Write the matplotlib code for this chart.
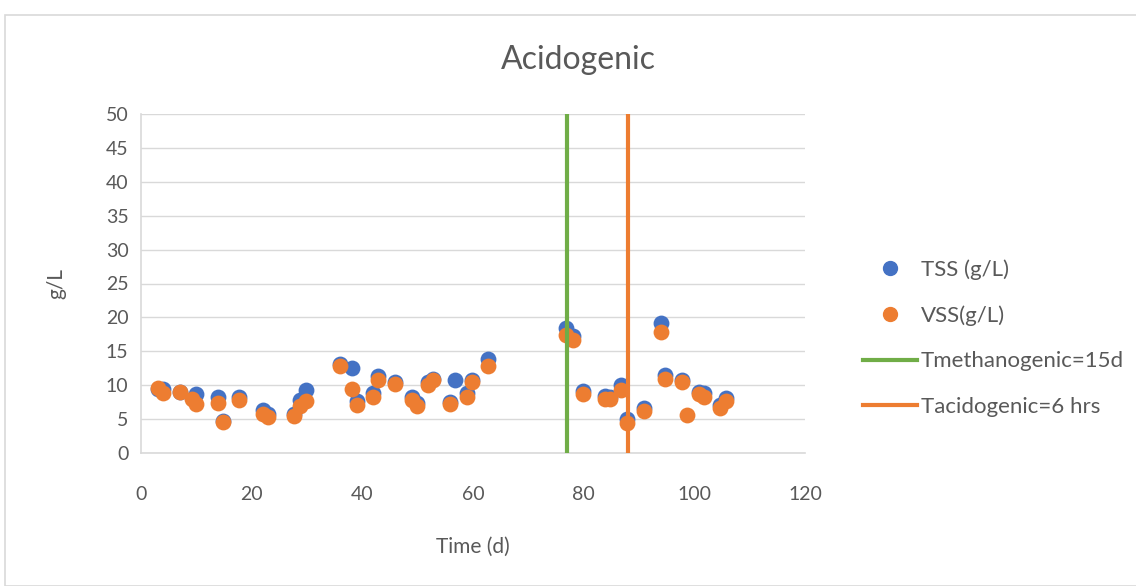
import matplotlib
matplotlib.use("Agg")
import matplotlib.pyplot as plt
from matplotlib.lines import Line2D
from matplotlib.patches import Rectangle

plt.rcParams['font.family'] = ['Lato', 'DejaVu Sans']

# TSS points (day, g/L)
tss_t = [3, 4, 7, 10, 14, 14.8, 17.8, 22.1, 23, 27.7, 28.7, 29.9, 36, 38.1, 39,
         42, 42.9, 45.9, 48.9, 49.8, 51.9, 52.8, 55.8, 56.7, 58.9, 59.8, 62.8,
         76.8, 78.1, 79.9, 83.9, 84.8, 86.8, 87.8, 90.9, 93.9, 94.7, 97.7,
         100.9, 101.8, 104.6, 105.8]
tss_v = [9.5, 9.4, 9.0, 8.7, 8.2, 4.7, 8.3, 6.4, 5.7, 5.8, 7.8, 9.3, 13.2, 12.5, 7.7,
         8.8, 11.3, 10.5, 8.3, 7.4, 10.5, 10.9, 7.5, 10.7, 8.8, 10.8, 13.8,
         18.5, 17.3, 9.2, 8.4, 8.3, 10.0, 5.0, 6.7, 19.2, 11.5, 10.7,
         9.0, 8.8, 7.1, 8.1]

# VSS points (day, g/L)
vss_t = [3, 4, 7, 9.2, 10, 14, 14.8, 17.8, 22.1, 23, 27.7, 28.7, 29.9, 36, 38.1, 39,
         42, 42.9, 45.9, 48.9, 49.8, 51.9, 52.8, 55.8, 58.9, 59.8, 62.8,
         76.8, 78.1, 79.9, 83.9, 84.8, 86.8, 87.8, 90.9, 93.9, 94.7, 97.7, 98.6,
         100.9, 101.8, 104.6, 105.8]
vss_v = [9.6, 8.9, 9.0, 8.0, 7.3, 7.4, 4.5, 7.8, 5.7, 5.3, 5.5, 6.9, 7.6, 12.9, 9.4, 7.1,
         8.2, 10.8, 10.2, 7.8, 6.9, 10.0, 10.7, 7.2, 8.3, 10.5, 12.8,
         17.4, 16.7, 8.7, 8.0, 8.0, 9.3, 4.4, 6.2, 17.9, 10.9, 10.5, 5.6,
         8.7, 8.3, 6.7, 7.6]

t_methanogenic = 77
t_acidogenic = 88

blue = '#4472C4'
orange = '#ED7D31'
green = '#70AD47'
gray_txt = '#595959'

fig = plt.figure(figsize=(11.36, 5.86), dpi=100)
fig.patches.append(Rectangle((5 / 1136, 0), 1.0, 1 - 15 / 586, transform=fig.transFigure,
                             fill=False, edgecolor='#D9D9D9', linewidth=1.2))
ax = fig.add_axes([141 / 1136, 133 / 586, 664 / 1136, 339 / 586])

ax.scatter(tss_t, tss_v, s=130, color=blue, zorder=3, linewidths=0)
ax.scatter(vss_t, vss_v, s=130, color=orange, zorder=4, linewidths=0)
ax.plot([t_methanogenic, t_methanogenic], [0, 50], color=green, linewidth=3, zorder=5)
ax.plot([t_acidogenic, t_acidogenic], [0, 50], color=orange, linewidth=3, zorder=5)

ax.set_xlim(0, 120)
ax.set_ylim(0, 50)
ax.set_xticks(range(0, 121, 20))
ax.set_yticks(range(0, 51, 5))
ax.grid(axis='y', color='#D9D9D9', linewidth=1)
ax.set_axisbelow(True)
for side in ['top', 'right']:
    ax.spines[side].set_visible(False)
for side in ['left', 'bottom']:
    ax.spines[side].set_color('#D9D9D9')
    ax.spines[side].set_linewidth(1.2)
ax.tick_params(length=0, labelsize=14, labelcolor=gray_txt)
ax.tick_params(axis='x', pad=24)
ax.tick_params(axis='y', pad=9)

fig.text(578 / 1136, 1 - 60 / 586, 'Acidogenic', fontsize=23, color=gray_txt,
         ha='center', va='center')
ax.set_xlabel('Time (d)', fontsize=15, color=gray_txt, labelpad=24)
ax.set_ylabel('g/L', fontsize=15, color=gray_txt, labelpad=28)

handles = [
    Line2D([], [], marker='o', linestyle='none', color=blue, markersize=10),
    Line2D([], [], marker='o', linestyle='none', color=orange, markersize=10),
    Line2D([], [], color=green, linewidth=3),
    Line2D([], [], color=orange, linewidth=3),
]
labels = ['TSS (g/L)', 'VSS(g/L)', 'Tmethanogenic=15d', 'Tacidogenic=6 hrs']
leg = fig.legend(handles, labels, loc='center left', bbox_to_anchor=(843 / 1136, 1 - 338 / 586),
                 frameon=False, fontsize=16, handlelength=2.45, handletextpad=0.15,
                 labelspacing=1.15)
for txt in leg.get_texts():
    txt.set_color(gray_txt)

fig.savefig('out.png', dpi=100)
